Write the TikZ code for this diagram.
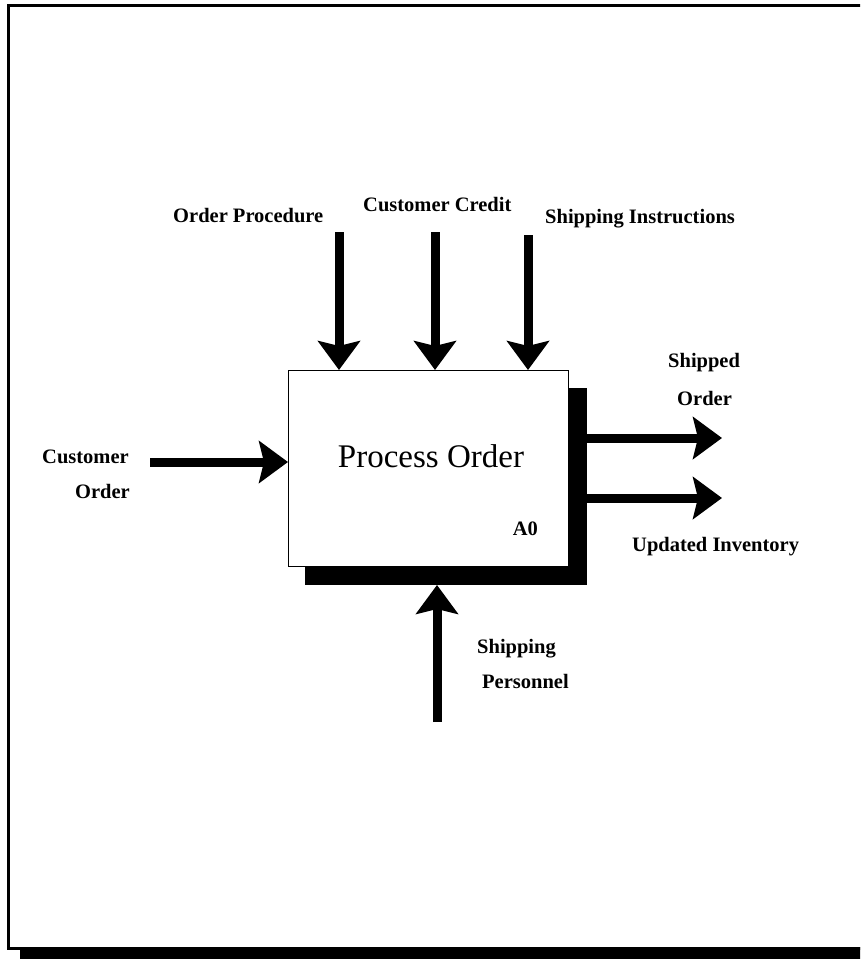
\documentclass[tikz,border=0pt]{standalone}
\usepackage{fontspec}
\setmainfont{Liberation Serif}
\usetikzlibrary{arrows.meta}
\begin{document}
\begin{tikzpicture}[x=1pt,y=-1pt,
  lbl/.style={inner sep=0pt,font=\fontsize{20.5}{24}\selectfont\bfseries},
  flow/.style={line width=9pt,-{Stealth[length=29pt,width=42pt,inset=5pt]}},
  blk/.style={fill=black,inner sep=0pt,outer sep=0pt},
  proc/.style={draw,fill=white,line width=1pt,inner sep=0pt,outer sep=0pt}
]
\useasboundingbox (0,0) rectangle (860,959);
\begin{scope}
\clip (0,0) rectangle (860,959);
\fill (20,947) rectangle (880,959);
\draw[line width=3pt] (8,5) rectangle (880,948);
\end{scope}
\node[blk,minimum width=282pt,minimum height=197pt] (shadow) at (446,486.5) {};
\node[proc,minimum width=280pt,minimum height=196pt] (box) at (428,468) {};
\node[anchor=base,inner sep=0pt,font=\fontsize{33}{40}\selectfont] (title) at (431,467) {Process Order};
\node[lbl,anchor=base east] (code) at (538,535) {A0};

\coordinate (op) at (339,232);
\coordinate (cc) at (435,232);
\coordinate (si) at (528,235);
\coordinate (co) at (150,462);
\coordinate (so) at (722,438);
\coordinate (ui) at (722,498);
\coordinate (sp) at (437,722);

\draw[flow] (op) -- (op |- box.north);
\draw[flow] (cc) -- (cc |- box.north);
\draw[flow] (si) -- (si |- box.north);
\draw[flow] (co) -- (co -| box.west);
\draw[flow] (shadow.east |- so) -- (so);
\draw[flow] (shadow.east |- ui) -- (ui);
\draw[flow] (sp) -- (sp |- shadow.south);

\node[lbl,anchor=base west] (lop) at (173,222) {Order Procedure};
\node[lbl,anchor=base west] (lcc) at (363,211) {Customer Credit};
\node[lbl,anchor=base west] (lsi) at (545,223) {Shipping Instructions};
\node[lbl,anchor=base west] (lsh) at (668,367) {Shipped};
\node[lbl,anchor=base west] (lso) at (677,405) {Order};
\node[lbl,anchor=base west] (lui) at (632,551) {Updated Inventory};
\node[lbl,anchor=base west] (lco) at (42,463) {Customer};
\node[lbl,anchor=base east] (lor) at (130,498) {Order};
\node[lbl,anchor=base west] (ls1) at (477,653) {Shipping};
\node[lbl,anchor=base west] (ls2) at (482,688) {Personnel};
\end{tikzpicture}
\end{document}
